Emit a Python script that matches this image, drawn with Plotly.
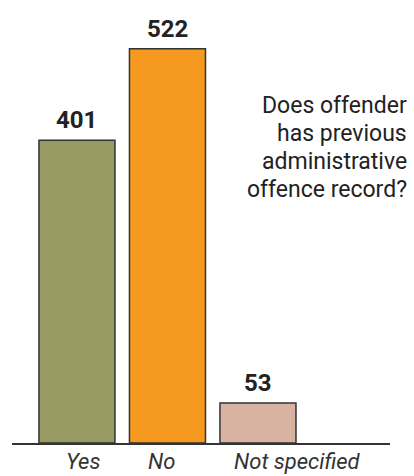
import plotly.graph_objects as go

# Responses to: does the offender have a previous administrative offence record?
categories = ["Yes", "No", "Not specified"]
counts = [401, 522, 53]
bar_colors = ["#979a62", "#f59a1f", "#d9b3a2"]

question_lines = ["Does offender", "has previous", "administrative", "offence record?"]

positions = list(range(len(categories)))

# layout helpers (pixels)
PLOT_BOTTOM = 443
label_xshift = [6, -6, 40]


def paper_y(py):
    return (PLOT_BOTTOM - py) / PLOT_BOTTOM


fig = go.Figure()
fig.add_trace(go.Bar(
    x=positions,
    y=counts,
    width=0.84,
    marker=dict(color=bar_colors, line=dict(color="#333333", width=1.5)),
    hoverinfo="skip",
))

# value labels above each bar
for xi, v in zip(positions, counts):
    fig.add_annotation(
        x=xi, y=v, xref="x", yref="y", text=f"<b>{v}</b>",
        showarrow=False, yanchor="bottom", yshift=4,
        font=dict(family="Roboto", size=24, color="#222222"),
    )

# category labels under the axis
for xi, name, dx in zip(positions, categories, label_xshift):
    fig.add_annotation(
        x=xi, y=paper_y(461), xref="x", yref="paper", text=f"<i>{name}</i>",
        showarrow=False, yanchor="middle", xshift=dx, borderpad=0,
        font=dict(family="Roboto", size=22, color="#333333"),
    )

# question text, right aligned
for i, line in enumerate(question_lines):
    fig.add_annotation(
        x=1.05, y=paper_y(105 + 28 * i), xref="paper", yref="paper", text=line,
        showarrow=False, xanchor="right", yanchor="middle", align="right",
        font=dict(family="Roboto", size=23, color="#222222"),
    )

fig.update_layout(
    width=414, height=476,
    margin=dict(l=12, r=24, t=0, b=33),
    paper_bgcolor="white", plot_bgcolor="white",
    showlegend=False,
    xaxis=dict(
        range=[-0.718, 3.459],
        showticklabels=False,
        showline=True, linecolor="#333333", linewidth=1.5,
        showgrid=False, zeroline=False, ticks="",
    ),
    yaxis=dict(
        range=[0, 586.7], visible=False, showgrid=False, zeroline=False,
    ),
)

fig.write_html("out.html")
